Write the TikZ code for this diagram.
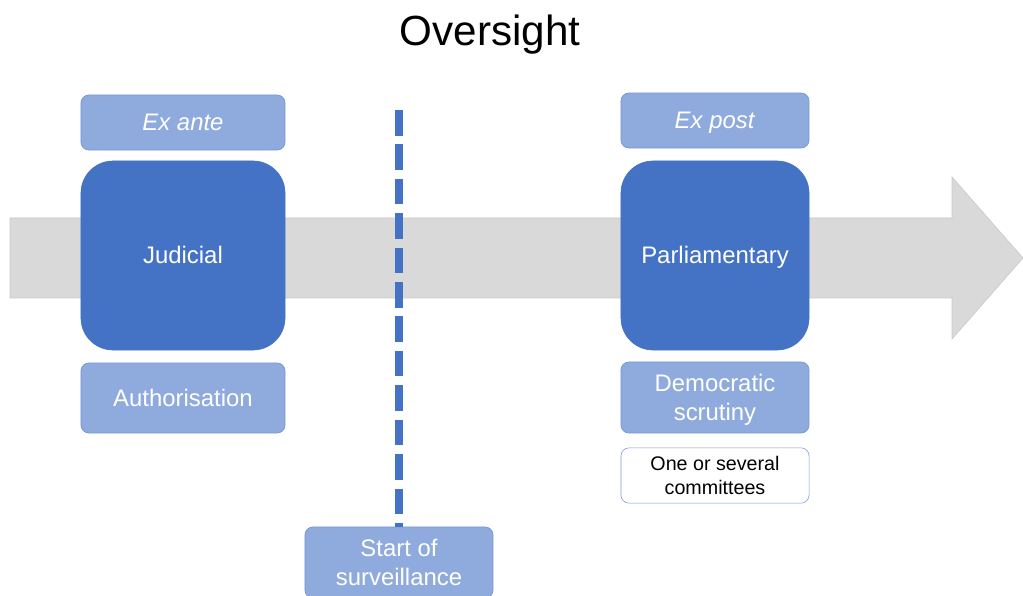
\documentclass[tikz,border=0pt]{standalone}
\usepackage{fontspec}
\setmainfont{Liberation Sans}
\usetikzlibrary{positioning}
\definecolor{darkblue}{HTML}{4472C4}
\definecolor{lightblue}{HTML}{8FAADC}
\definecolor{lightedge}{HTML}{7A9BD6}
\definecolor{arrowgray}{HTML}{D9D9D9}
\newcommand{\ls}{\rule[-0.212em]{0pt}{1.117em}}

\begin{document}
\begin{tikzpicture}[x=0.025cm,y=-0.025cm,
  phasebox/.style={rectangle,rounded corners=0.2cm,fill=lightblue,draw=lightedge,line width=0.6pt,
    text=white,font=\fontsize{17}{21}\selectfont,align=center},
  bodybox/.style={rectangle,rounded corners=0.8cm,fill=darkblue,draw=darkblue,
    text=white,font=\fontsize{17}{21}\selectfont,minimum height=4.725cm},
  notebox/.style={rectangle,rounded corners=0.2cm,fill=white,draw=lightedge,line width=0.4pt,
    text=black,font=\fontsize{14}{17}\selectfont,align=center,minimum width=4.7cm,minimum height=1.375cm},
  cutline/.style={darkblue,line width=0.2cm,dash pattern=on 0.64cm off 0.22cm}]
\useasboundingbox (0,0) rectangle (1023,596);

% time line
\filldraw[fill=arrowgray,draw=arrowgray!92!black,line width=0.4pt]
  (10,218) -- (952,218) -- (952,177) -- (1023,258) -- (952,339) -- (952,298) -- (10,298) -- cycle;

\node (title) at (490,31) {\fontsize{30}{36}\selectfont\ls Oversight};

% ex ante
\node[phasebox,minimum width=5.1cm,minimum height=1.375cm] (exante) at (183,122.5) {\ls\textit{Ex ante}};
\node[bodybox,minimum width=5.1cm] (judicial) at (183,255.5) {\ls Judicial};
\node[phasebox,minimum width=5.1cm,minimum height=1.75cm] (auth) at (183,398) {\ls Authorisation};

% start of surveillance
\coordinate (cuttop) at (399,110);
\node[phasebox,minimum width=4.7cm,minimum height=1.775cm] (start) at (399,562.5) {\ls Start of\\\ls surveillance};
\draw[cutline] (cuttop) -- (start.north);

% ex post
\node[phasebox,minimum width=4.7cm,minimum height=1.375cm] (expost) at (715,120.5) {\ls\textit{Ex post}};
\node[bodybox,minimum width=4.7cm] (parl) at (715,255.5) {\ls Parliamentary};
\node[phasebox,minimum width=4.7cm,minimum height=1.775cm] (demo) at (715,397.5) {\ls Democratic\\\ls scrutiny};
\node[notebox] (comm) at (715,475.5) {\ls One or several\\\ls committees};

\end{tikzpicture}
\end{document}
